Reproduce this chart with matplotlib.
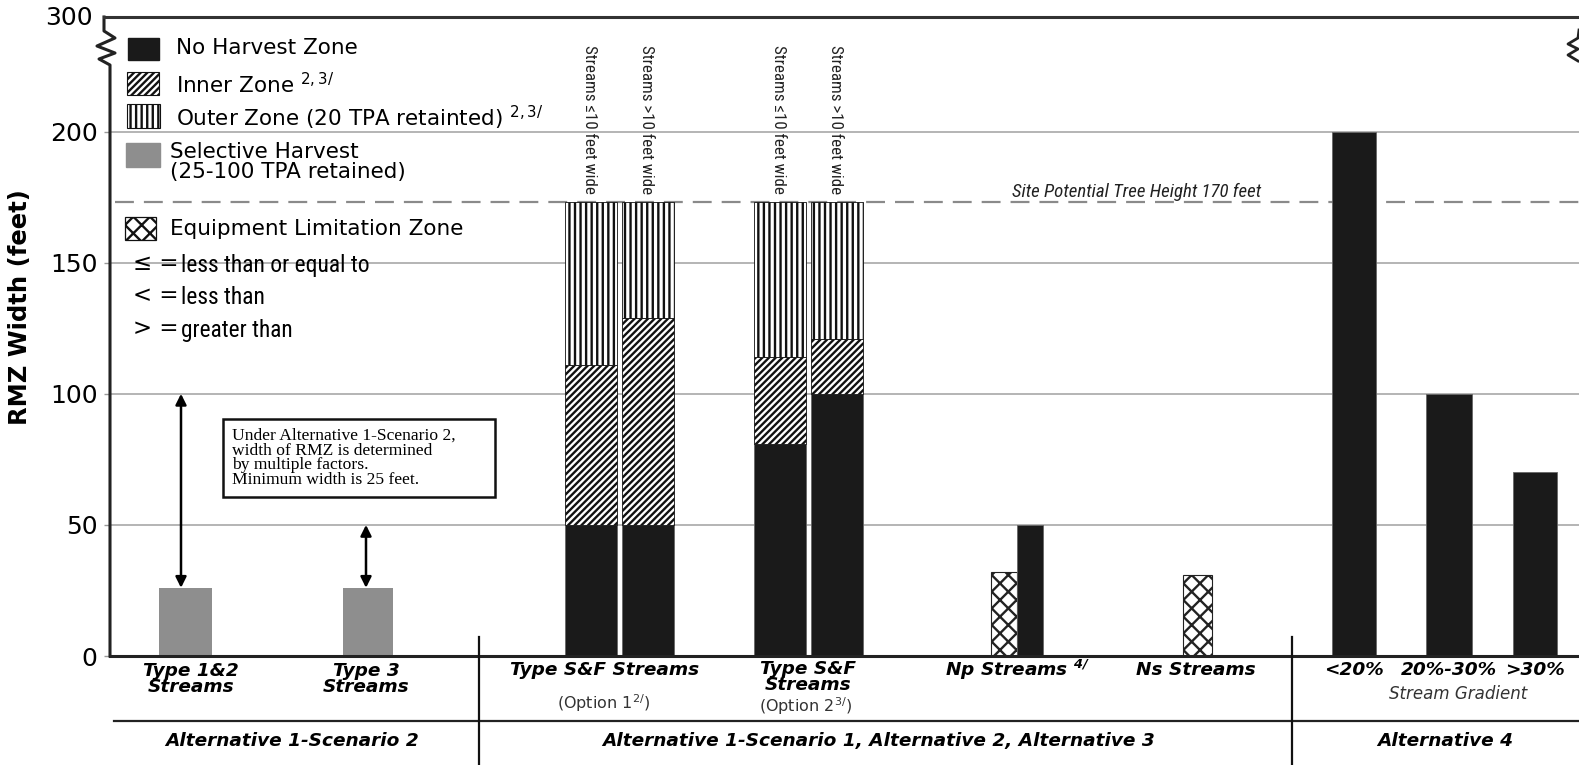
import matplotlib
matplotlib.use('Agg')
import matplotlib.pyplot as plt
from matplotlib.patches import Rectangle
from matplotlib.lines import Line2D
import matplotlib.transforms as mtransforms
from matplotlib import font_manager

W, H = 1579, 765

# ---------------- data ----------------
sel_categories = ['Type 1&2\nStreams', 'Type 3\nStreams']
sel_min_width = [26, 26]          # selective harvest bars (min width 25 ft)
sel_range_top = [100, 50]         # top of the double arrows

sf_rot_labels = ['Streams \u226410 feet wide', 'Streams >10 feet wide',
                 'Streams \u226410 feet wide', 'Streams >10 feet wide']
sf_no_harvest = [50, 50, 81, 100]
sf_inner = [61, 79, 33, 21]
sf_outer = [62, 44, 59, 52]

np_elz = [32]
np_no_harvest = [50]
ns_elz = [31]

alt4_labels = ['<20%', '20%-30%', '>30%']
alt4_no_harvest = [200, 100, 70]

site_potential = 173
yticks = [0, 50, 100, 150, 200]

# ---------------- layout (pixel-like x units) ----------------
sel_x = [185.5, 368.0]
sel_w = [53, 50]
arrow_x = [181, 366]
sel_label_x = [191, 366]
sf_x = [591, 648.5, 780.5, 837]
sf_w = 52
np_x = [1004, 1030]
np_w = 26
ns_x = [1197.5]
ns_w = 29.5
alt4_x = [1353.7, 1448.7, 1535]
alt4_w = [44, 46, 43.4]

BLACK = '#1a1a1a'
GRAY = '#8e8e8e'

avail = {f.name for f in font_manager.fontManager.ttflist}
NARROW = None
for cand in ['Liberation Sans Narrow', 'Roboto Condensed', 'Open Sans Condensed']:
    if cand in avail:
        NARROW = cand
        break
if NARROW is None:
    NARROW = 'Liberation Sans'
SANS = ['DejaVu Sans']
SERIF = ['Liberation Serif', 'DejaVu Serif']

plt.rcParams['font.family'] = SANS
plt.rcParams['mathtext.fontset'] = 'dejavusans'
plt.rcParams['hatch.linewidth'] = 1.7

fig = plt.figure(figsize=(W / 100, H / 100), dpi=100)
ax = fig.add_axes([110 / W, 1 - 656 / H, (W - 110) / W, (656 - 17) / H])
ax.set_xlim(110, W)
ymax = 243.7
ax.set_ylim(0, ymax)

# pixel transform (x right, y down, full-image pixels)
P = mtransforms.Affine2D().scale(1 / W, -1 / H).translate(0, 1) + fig.transFigure
XP = mtransforms.blended_transform_factory(ax.transData, P)

for s in ['left', 'right', 'top']:
    ax.spines[s].set_visible(False)
ax.spines['bottom'].set_linewidth(2.2)
ax.spines['bottom'].set_color('#222222')
ax.set_xticks([])
ax.set_yticks(yticks)
ax.tick_params(axis='y', length=4, width=1, color='#999999', labelsize=18, pad=5)
ax.yaxis.grid(True, color='#a8a8a8', lw=1.2)
ax.set_axisbelow(True)

# top label of broken axis
fig.text(93, 18, '300', transform=P, ha='right', va='center', fontsize=18)

# left spine with break
lx = [104, 104, 115, 97, 115, 99, 110, 110]
ly = [17, 31, 38, 46, 53, 59, 65, 656]
fig.add_artist(Line2D(lx, ly, transform=P, color='#222222', lw=2.2))
fig.add_artist(Line2D([104, W], [17, 17], transform=P, color='#333333', lw=2.2))
fig.add_artist(Line2D([1579, 1578, 1568, 1578, 1568, 1578], [30, 38, 44, 49, 55, 61],
                      transform=P, color='#222222', lw=2))

# site potential line
ax.hlines(site_potential, 115, W, colors='#8a8a8a', lw=1.6,
          linestyles=(0, (8.5, 4.5)), zorder=1.5)

# selective harvest bars
ax.bar(sel_x, sel_min_width, width=sel_w, color=GRAY, zorder=2)
for x, lo, hi in zip(arrow_x, sel_min_width, sel_range_top):
    ax.annotate('', xy=(x, hi), xytext=(x, lo),
                arrowprops=dict(arrowstyle='<|-|>', mutation_scale=16, lw=1.8,
                                color='black', shrinkA=0, shrinkB=0), zorder=3)

# S&F stacked bars
ax.bar(sf_x, sf_no_harvest, width=sf_w, color=BLACK, edgecolor='#666666', lw=0.6, zorder=2)
ax.bar(sf_x, sf_inner, bottom=sf_no_harvest, width=sf_w, facecolor='white',
       edgecolor='#111111', lw=0.6, hatch='/////', zorder=2)
bot2 = [a + b for a, b in zip(sf_no_harvest, sf_inner)]
ax.bar(sf_x, sf_outer, bottom=bot2, width=sf_w, facecolor='white',
       edgecolor='#111111', lw=0.6, hatch='|||', zorder=2)

# Np / Ns bars
ax.bar(np_x[:1], np_elz, width=np_w, facecolor='white', edgecolor='#222222',
       lw=0.8, hatch='xx', zorder=2)
ax.bar(ns_x, ns_elz, width=ns_w, facecolor='white', edgecolor='#222222',
       lw=0.8, hatch='xx', zorder=2)
ax.bar(np_x[1:], np_no_harvest, width=np_w, color=BLACK, edgecolor='#666666', lw=0.6, zorder=2)

# Alternative 4 bars
ax.bar(alt4_x, alt4_no_harvest, width=alt4_w, color=BLACK, edgecolor='#666666', lw=0.6, zorder=2)

renderer = fig.canvas.get_renderer()

def fit(t, target, vertical=False):
    bb = t.get_window_extent(renderer=renderer)
    w = bb.height if vertical else bb.width
    if w > 0:
        t.set_fontsize(t.get_fontsize() * target / w)

# rotated stream-width labels
for x, lab in zip(sf_x, sf_rot_labels):
    t = ax.text(x - 1.5, 45, lab, transform=XP, rotation=270, ha='center', va='top',
                fontsize=12, family=[NARROW, 'DejaVu Sans'], color='#222222')
    fit(t, 148, vertical=True)

t = ax.text(1012, 192, 'Site Potential Tree Height 170 feet', transform=XP, ha='left',
            va='center', fontsize=12, style='italic', family=[NARROW, 'DejaVu Sans'],
            color='#222222')
fit(t, 248)

# annotation box
fig.add_artist(Rectangle((223, 419), 272, 78, transform=P, facecolor='white',
                         edgecolor='#111111', lw=1.8, zorder=5))
box_text = ('Under Alternative 1-Scenario 2,\nwidth of RMZ is determined\n'
            'by multiple factors.\nMinimum width is 25 feet.')
BOXFS = 12.6
single = fig.text(0, 0, 'Under', fontsize=BOXFS, family=SERIF)
hs = single.get_window_extent(renderer=renderer).height
single.remove()
bt = fig.text(232, 458, box_text, transform=P, ha='left', va='center', fontsize=BOXFS,
              family=SERIF, zorder=6, linespacing=1.0)
h1 = bt.get_window_extent(renderer=renderer).height
step1 = (h1 - hs) / 3.0
if step1 > 0:
    bt.set_linespacing(14.4 / step1)

# legend
fig.add_artist(Rectangle((128, 38), 31, 22, transform=P, facecolor=BLACK, edgecolor=BLACK))
fig.add_artist(Rectangle((127, 72), 32, 23, transform=P, facecolor='white', edgecolor='#111111',
                         lw=0.8, hatch='/////'))
fig.add_artist(Rectangle((127, 104), 33, 24, transform=P, facecolor='white', edgecolor='#111111',
                         lw=0.8, hatch='|||'))
fig.add_artist(Rectangle((126, 143), 34, 24, transform=P, facecolor=GRAY, edgecolor=GRAY))
fig.add_artist(Rectangle((125, 217), 31, 23, transform=P, facecolor='white', edgecolor='#111111',
                         lw=0.9, hatch='xx'))

LF = 15.5
fig.text(176, 48, 'No Harvest Zone', transform=P, va='center', fontsize=LF)
fig.text(176, 85, 'Inner Zone $^{\\mathregular{2,3/}}$', transform=P, va='center', fontsize=LF)
fig.text(176, 118, 'Outer Zone (20 TPA retainted) $^{\\mathregular{2,3/}}$', transform=P,
         va='center', fontsize=LF)
fig.text(170, 162, 'Selective Harvest\n(25-100 TPA retained)', transform=P, va='center',
         fontsize=LF, linespacing=0.95)
fig.text(170, 229, 'Equipment Limitation Zone', transform=P, va='center', fontsize=LF)

for yy, sym, phrase, wpx in [(266, '\u2264', 'less than or equal to', 190),
                             (298, '<', 'less than', 85),
                             (331, '>', 'greater than', 113)]:
    fig.text(133, yy - 2, sym + ' =', transform=P, va='center', fontsize=16.5)
    t = fig.text(181, yy, phrase, transform=P, va='center', fontsize=14,
                 family=[NARROW, 'DejaVu Sans'])
    fit(t, wpx)

# y label
fig.text(20, 307, 'RMZ Width (feet)', transform=P, rotation=90, ha='center', va='center',
         fontsize=17.5, fontweight='bold')

# bottom category labels
BI = dict(fontweight='bold', style='italic', fontsize=13.3, ha='center', va='center',
          linespacing=0.9)
for x, lab in zip(sel_label_x, sel_categories):
    fig.text(x, 679, lab, transform=XP, **BI)
fig.text(605, 670, 'Type S&F Streams', transform=XP, **BI)
fig.text(604, 703, '(Option 1$^{\\mathregular{2/}}$)', transform=XP, ha='center', va='center',
         fontsize=11.5, color='#333333')
fig.text(808, 677, 'Type S&F\nStreams', transform=XP, **BI)
fig.text(806, 706, '(Option 2$^{\\mathregular{3/}}$)', transform=XP, ha='center', va='center',
         fontsize=11.5, color='#333333')
fig.text(1017, 670, 'Np Streams $^{\\mathregular{4/}}$', transform=XP, **BI)
fig.text(1196, 670, 'Ns Streams', transform=XP, **BI)
for x, lab in zip(alt4_x, alt4_labels):
    fig.text(x, 670, lab, transform=XP, **BI)
fig.text(1458, 694, 'Stream Gradient', transform=XP, ha='center', va='center',
         fontsize=12, style='italic', color='#333333')

GB = dict(fontweight='bold', style='italic', fontsize=13.3, ha='center', va='center')
fig.text(292, 741, 'Alternative 1-Scenario 2', transform=XP, **GB)
fig.text(879, 741, 'Alternative 1-Scenario 1, Alternative 2, Alternative 3', transform=XP, **GB)
fig.text(1445, 741, 'Alternative 4', transform=XP, **GB)

# table lines
fig.add_artist(Line2D([114, W], [721, 721], transform=P, color='#222222', lw=1.6))
for x in [479, 1292]:
    fig.add_artist(Line2D([x, x], [637, 765], transform=P, color='#111111', lw=1.6))

fig.savefig('out.png', dpi=100)
